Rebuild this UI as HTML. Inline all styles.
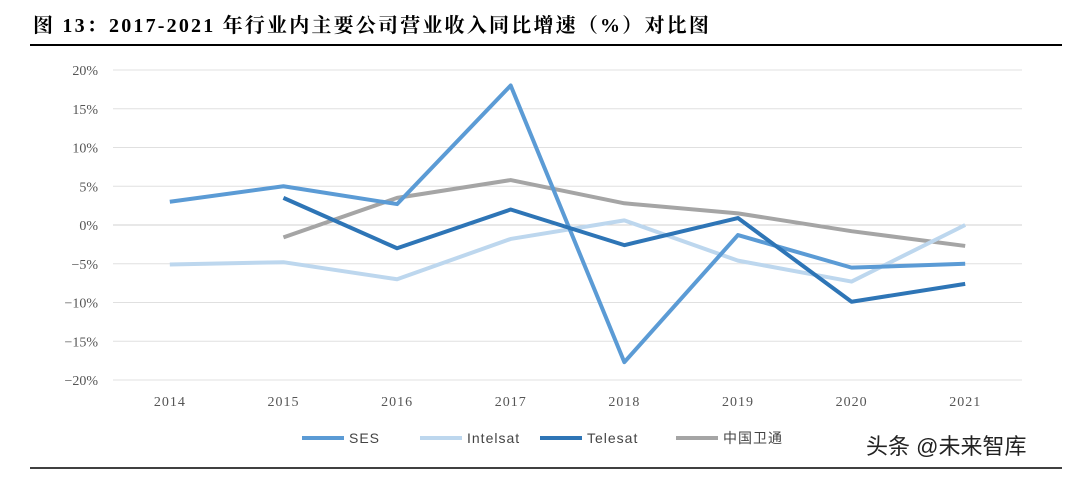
<!DOCTYPE html>
<html><head><meta charset="utf-8"><style>
body{margin:0;width:1080px;height:473px;background:#fff;overflow:hidden;font-family:"Liberation Serif","Noto Serif CJK SC",serif}
</style></head><body>
<svg width="1080" height="473">
<text x="33" y="32" font-size="20" font-weight="bold" fill="#000" letter-spacing="2.2" font-family="Liberation Serif, Noto Serif CJK SC, serif">图 13：2017-2021 年行业内主要公司营业收入同比增速（%）对比图</text>
<line x1="30" y1="45" x2="1062" y2="45" stroke="#000" stroke-width="2"/>
<g id="grid"></g><g id="ylab"></g><g id="xlab"></g><g id="lines"></g>
<g id="legend"></g>
<text x="866" y="454" font-size="22" fill="#222" font-family="Liberation Sans, Noto Sans CJK SC, sans-serif">头条 @未来智库</text>
<line x1="30" y1="468" x2="1062" y2="468" stroke="#000" stroke-width="1.5"/>
</svg>
<script>
const categories=["2014","2015","2016","2017","2018","2019","2020","2021"];
const yTicks=[20,15,10,5,0,-5,-10,-15,-20];
const ses=[3.0,5.0,2.7,18.0,-17.7,-1.3,-5.5,-5.0];
const intelsat=[-5.1,-4.8,-7.0,-1.8,0.6,-4.6,-7.3,0.0];
const telesat=[null,3.5,-3.0,2.0,-2.6,0.9,-9.9,-7.6];
const chinasat=[null,-1.6,3.5,5.8,2.8,1.5,-0.8,-2.7];
const seriesNames=["SES","Intelsat","Telesat","中国卫通"];
const NS="http://www.w3.org/2000/svg";
const L=113,R=1022,T=70,B=380;
const y=v=>T+(20-v)*(B-T)/40;
const bw=(R-L)/categories.length;
const x=i=>L+bw*(i+0.5);
function mk(tag,attrs,parent){const e=document.createElementNS(NS,tag);for(const k in attrs)e.setAttribute(k,attrs[k]);document.getElementById(parent).appendChild(e);return e;}
yTicks.forEach(t=>{
 const g=mk('line',{x1:L,x2:R,y1:y(t),y2:y(t),stroke:t===0?'#d0d0d0':'#e0e0e0','stroke-width':1},'grid');
 
 
 const tx=mk('text',{x:98,y:y(t)+5,'text-anchor':'end','font-size':14,fill:'#555'},'ylab');
 tx.textContent=(t<0?'\u2212'+(-t):t)+'%';
 
 
});
categories.forEach((c,i)=>{
 const tx=mk('text',{x:x(i),y:406,'text-anchor':'middle','font-size':14,fill:'#555','letter-spacing':'1'},'xlab');
 tx.textContent=c;
 
 
});
const colors=["#5b9bd5","#bdd7ee","#2e75b6","#a5a5a5"];
const data=[ses,intelsat,telesat,chinasat];
const order=[3,1,0,2];
order.forEach(s=>{
 const pts=[];data[s].forEach((v,i)=>{if(v!==null)pts.push(x(i)+','+y(v));});
 const p=mk('polyline',{points:pts.join(' '),fill:'none',stroke:colors[s],'stroke-width':4,'stroke-linejoin':'round'},'lines');
 
 
});
const lx=[302,420,540,676];
seriesNames.forEach((n,s)=>{
 const l=mk('line',{x1:lx[s],x2:lx[s]+42,y1:438,y2:438,stroke:colors[s],'stroke-width':4},'legend');
 
 
 const t=mk('text',{x:lx[s]+47,y:443,'font-size':14,fill:'#444','font-family':'Liberation Sans, Noto Sans CJK SC, sans-serif','letter-spacing':'1'},'legend');
 t.textContent=n;
 
 
});
</script>
</body></html>
